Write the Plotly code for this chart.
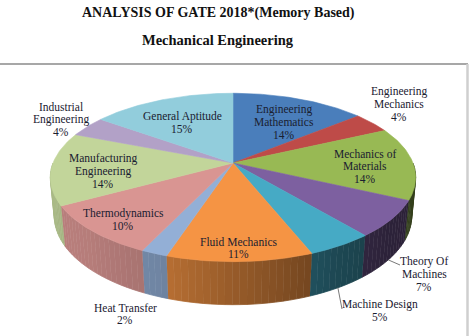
import numpy as np
import plotly.graph_objects as go

# ---------------- data ----------------
categories = ["Engineering Mathematics", "Engineering Mechanics", "Mechanics of Materials",
              "Theory Of Machines", "Machine Design", "Fluid Mechanics", "Heat Transfer",
              "Thermodynamics", "Manufacturing Engineering", "Industrial Engineering",
              "General Aptitude"]
shares = [14, 4, 14, 7, 5, 11, 2, 10, 14, 4, 15]
label_lines = [["Engineering", "Mathematics"], ["Engineering", "Mechanics"], ["Mechanics of", "Materials"],
               ["Theory Of", "Machines"], ["Machine Design"], ["Fluid Mechanics"], ["Heat Transfer"],
               ["Thermodynamics"], ["Manufacturing", "Engineering"], ["Industrial", "Engineering"],
               ["General Aptitude"]]
title_text = "ANALYSIS OF GATE 2018*(Memory Based)"
subtitle_text = "Mechanical Engineering"

# ---------------- style ----------------
colors = ["#4A7EBB", "#BE4B48", "#98B954", "#7D60A0", "#46AAC5", "#F59444",
          "#93AFD6", "#D99592", "#C2D59A", "#B2A1C7", "#92CDDC"]
FONT = "Liberation Serif"
TEXT_COLOR = "#1a2030"
LINE_GAP = 12.5

# label anchor positions (pixel space: centre x, centre y of text block) and leader endpoints
label_pos = [(284, 122), (399, 104), (365, 166), (424, 274), (380, 311), (238, 248),
             (125, 314), (123, 220), (103, 171), (61, 119), (182, 123)]
leader_end = {3: (400, 265), 4: (342, 309)}

# perspective projection of a tilted disk
ALPHA = np.radians(27.0)
S, C = np.sin(ALPHA), np.cos(ALPHA)
DIST, FOC = 5.19, 934.0
CX, CY = 233.0, 163.0
DEPTH = 0.241


def proj(theta_deg, Y):
    th = np.radians(np.asarray(theta_deg, dtype=float))
    X, Z = np.sin(th), np.cos(th)
    yc = Z * S + Y * C
    zc = DIST + Z * C - Y * S
    return CX + FOC * X / zc, CY - FOC * yc / zc


def shade(hex_color, f):
    h = hex_color.lstrip("#")
    r, g, b = (int(h[i:i + 2], 16) for i in (0, 2, 4))
    return "rgb(%d,%d,%d)" % (r * f, g * f, b * f)


def side_factor(theta):
    return float(np.interp(theta, [90, 130, 150, 180, 200, 225, 270],
                           [0.33, 0.36, 0.42, 0.62, 0.76, 0.84, 0.88]))


fig = go.Figure()

total = float(sum(shares))
angles = np.concatenate([[0.0], np.cumsum(shares) / total * 360.0])

# side faces (front half only), drawn as thin strips for shading
for i in range(len(shares)):
    a, b = max(angles[i], 90.0), min(angles[i + 1], 270.0)
    if b <= a:
        continue
    n = max(1, int(np.ceil((b - a) / 2.0)))
    edges = np.linspace(a, b, n + 1)
    for t0, t1 in zip(edges[:-1], edges[1:]):
        ts = np.linspace(t0, t1, 3)
        ux, vy = proj(ts, 0.0)
        bx, by = proj(ts[::-1], -DEPTH)
        col = shade(colors[i], side_factor((t0 + t1) / 2))
        fig.add_trace(go.Scatter(x=np.concatenate([ux, bx]), y=np.concatenate([vy, by]),
                                 fill="toself", fillcolor=col, mode="lines",
                                 line=dict(color=col, width=0.8),
                                 hoverinfo="skip", showlegend=False))

# top faces
for i in range(len(shares)):
    ts = np.linspace(angles[i], angles[i + 1], max(3, int(shares[i] * 3.6) + 1))
    ux, vy = proj(ts, 0.0)
    xs = np.concatenate([[CX], ux, [CX]])
    ys = np.concatenate([[CY], vy, [CY]])
    fig.add_trace(go.Scatter(x=xs, y=ys, fill="toself", fillcolor=colors[i], mode="lines",
                             line=dict(color=colors[i], width=0.6), name=categories[i],
                             hoverinfo="skip", showlegend=False))

# leader lines
for i, (ex, ey) in leader_end.items():
    mid = (angles[i] + angles[i + 1]) / 2
    sx, sy = proj(mid, -DEPTH)
    fig.add_trace(go.Scatter(x=[float(sx), ex], y=[float(sy), ey], mode="lines",
                             line=dict(color="#555555", width=0.8),
                             hoverinfo="skip", showlegend=False))

annotations = []
for i in range(len(shares)):
    x, y = label_pos[i]
    lines = label_lines[i] + ["%d%%" % shares[i]]
    n = len(lines)
    for k, txt in enumerate(lines):
        annotations.append(dict(x=x, y=y + (k - (n - 1) / 2) * LINE_GAP, xref="x", yref="y",
                                showarrow=False, text=txt,
                                font=dict(family=FONT, size=11.5, color=TEXT_COLOR)))
annotations.append(dict(x=218, y=13, xref="x", yref="y", showarrow=False, text="<b>%s</b>" % title_text,
                        font=dict(family=FONT, size=14, color="#111111")))
annotations.append(dict(x=218, y=40, xref="x", yref="y", showarrow=False, text="<b>%s</b>" % subtitle_text,
                        font=dict(family=FONT, size=14.5, color="#111111")))

shapes = [
    dict(type="line", xref="x", yref="y", x0=0, x1=468, y0=64, y1=64,
         line=dict(color="#8a8a8a", width=1.5)),
    dict(type="line", xref="x", yref="y", x0=467.5, x1=467.5, y0=64, y1=336,
         line=dict(color="#cfcfcf", width=2.5)),
]

fig.update_layout(
    width=472, height=336, autosize=False,
    margin=dict(l=0, r=0, t=0, b=0),
    paper_bgcolor="white", plot_bgcolor="white",
    xaxis=dict(range=[0, 472], visible=False, fixedrange=True),
    yaxis=dict(range=[336, 0], visible=False, fixedrange=True),
    annotations=annotations, shapes=shapes,
)

fig.write_html("out.html")
